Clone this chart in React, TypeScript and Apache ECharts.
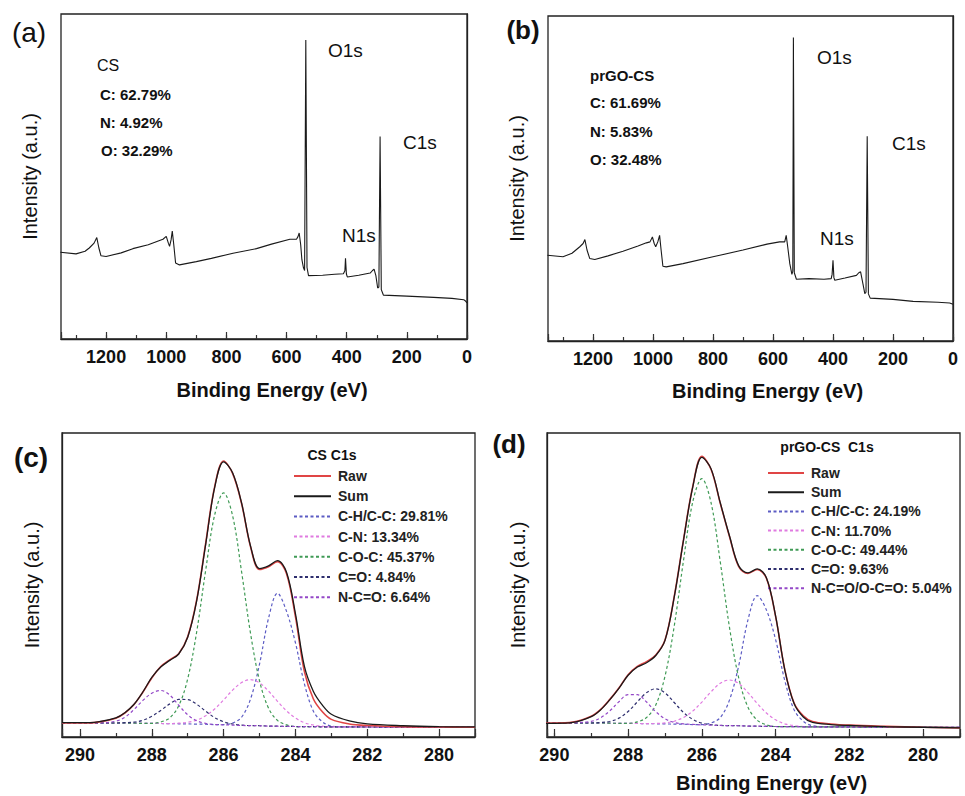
import React, { useEffect, useRef } from "react";
import * as echarts from "echarts";

const FONT = "'Liberation Sans', Arial, Helvetica, sans-serif";

// ---------- survey spectra (binding energy eV, intensity a.u.) ----------
const surveyA_x = [1352,1300,1270,1256,1240,1231,1224,1217,1200,1150,1111,1060,1020,1011,1000,993,989,984,980,975,969,956,900,850,778,700,650,589,567,562,558,553,549,544,540,536,532,527,480,440,411,406,404,401,398,360,322,315,309,303,297,293,289,285,280,278,200,111,50,11,4,0];
const surveyA_y = [26.7,26.2,27.0,28.0,29.5,31.2,28.0,25.6,25.4,26.5,27.8,29.0,30.4,30.7,31.6,29.5,28.5,30.5,33.2,29.0,23.4,22.8,23.8,24.8,26.4,27.8,29.2,30.7,30.7,31.5,32.6,29.0,24.4,22.0,21.1,92.0,22.0,19.5,19.6,19.9,20.1,21.0,24.8,20.0,19.1,19.6,20.3,21.0,21.5,19.5,15.7,16.0,62.3,15.2,14.0,13.5,13.2,12.8,12.5,12.1,11.6,11.1];

const surveyB_x = [1352,1300,1270,1244,1233,1227,1220,1211,1194,1150,1100,1050,1022,1010,1002,996,991,984,978,973,967,956,900,800,700,620,578,561,556,551,544,537,534,532,529,522,480,430,406,403,400,397,394,360,322,314,308,300,294,290,286,282,276,200,133,50,11,0];
const surveyB_y = [26.4,25.9,27.0,29.0,30.0,31.2,28.0,25.4,25.1,26.2,27.6,29.2,30.2,30.5,32.0,30.0,29.0,30.5,32.5,28.0,23.0,22.8,23.8,25.9,28.0,29.8,30.5,30.5,32.5,29.0,23.8,20.5,21.5,93.4,21.0,19.0,19.2,19.0,19.2,20.5,24.8,19.5,18.7,19.4,20.2,21.0,21.3,17.5,14.6,15.0,63.0,14.5,13.2,12.8,12.2,11.9,11.7,11.3];

// ---------- C1s high-resolution spectra ----------
const c1sX = [290.5,290,289.5,289,288.75,288.5,288.25,288,287.75,287.5,287.25,287,286.75,286.5,286.25,286,285.75,285.5,285.25,285,284.75,284.5,284.25,284,283.75,283.5,283.25,283,282.5,282,281,280,279];

// panel (c) CS C1s
const rawC = [4.6,4.6,4.9,6.2,7.9,10.6,14.7,19.4,23.2,25.4,27.4,33.0,45.1,63.7,82.3,90.8,86.7,76.8,62.6,55.1,56.0,57.7,53.8,39.6,21.5,12.5,8.3,5.8,4.3,3.8,3.4,3.3,3.2];
const sumC = [4.7,4.7,5.0,6.3,8.0,10.7,14.8,19.6,23.0,25.2,27.3,32.8,44.8,63.3,82.0,90.5,86.9,77.0,62.8,55.4,56.3,58.0,54.3,40.6,23.2,15.0,10.5,7.5,5.3,4.3,3.7,3.4,3.3];
const chC = [4.6,4.6,4.6,4.6,4.6,4.55,4.5,4.5,4.45,4.4,4.35,4.3,4.25,4.2,4.1,4.1,4.6,6.5,12.5,24.0,39.0,47.3,41.4,31.0,17.5,8.5,5.0,3.6,3.3,3.3,3.2,3.2,3.2];
const cnC = [4.6,4.6,4.6,4.6,4.6,4.55,4.5,4.5,4.45,4.4,4.55,4.84,5.55,7.0,9.2,12.2,15.4,17.9,18.85,17.8,15.1,11.75,8.6,6.25,4.7,3.94,3.55,3.3,3.3,3.3,3.2,3.2,3.2];
const cocC = [4.6,4.6,4.6,4.6,4.6,4.55,4.5,4.5,4.95,6.3,10.25,19.1,34.55,54.8,73.0,80.3,72.8,54.4,34.05,18.5,9.5,5.45,4.0,3.45,3.4,3.4,3.35,3.3,3.3,3.3,3.2,3.2,3.2];
const coC = [4.6,4.6,4.6,4.6,4.7,4.9,5.5,6.8,8.75,10.9,12.35,12.3,10.75,8.5,6.4,5.0,4.27,3.9,3.75,3.7,3.6,3.55,3.5,3.45,3.4,3.4,3.35,3.3,3.3,3.3,3.2,3.2,3.2];
const ncoC = [4.6,4.6,4.6,5.2,6.5,9.0,12.0,14.4,15.3,13.8,10.45,7.3,5.35,4.5,4.1,4.0,3.9,3.8,3.75,3.7,3.6,3.55,3.5,3.45,3.4,3.4,3.35,3.3,3.3,3.3,3.2,3.2,3.2];

// panel (d) prGO-CS C1s
const rawD = [4.6,4.6,4.9,6.8,9.0,12.3,16.1,20.5,23.2,24.8,27.0,31.9,46.2,64.8,82.3,92.3,88.0,76.8,65.9,56.0,53.8,55.1,52.2,39.6,22.1,11.2,7.0,5.1,4.3,3.9,3.5,3.2,3.0];
const sumD = [4.5,4.5,4.8,6.7,8.9,12.2,16.0,20.3,23.0,24.4,26.8,31.8,46.0,64.6,82.0,92.0,88.2,77.0,66.1,56.3,54.0,55.3,52.4,39.8,22.0,11.0,6.6,4.8,4.1,3.8,3.4,3.2,3.0];
const chD = [4.6,4.6,4.6,4.6,4.6,4.55,4.5,4.5,4.45,4.4,4.35,4.3,4.25,4.2,4.1,4.1,4.6,6.4,12.2,23.5,38.5,46.5,41.8,32.0,18.5,9.0,5.2,3.7,3.3,3.3,3.2,3.2,3.2];
const cnD = [4.6,4.6,4.6,4.6,4.6,4.55,4.5,4.5,4.45,4.4,4.45,4.65,5.19,6.4,8.5,11.5,14.9,17.7,18.75,17.6,14.6,11.05,7.9,5.65,4.34,3.75,3.45,3.3,3.3,3.3,3.2,3.2,3.2];
const cocD = [4.6,4.6,4.6,4.6,4.6,4.55,4.5,4.5,4.98,6.4,10.55,20.0,36.45,57.9,77.2,85.0,77.0,57.5,35.95,19.4,9.8,5.55,4.03,3.45,3.4,3.4,3.35,3.3,3.3,3.3,3.2,3.2,3.2];
const coD = [4.6,4.6,4.6,4.6,4.75,5.11,6.2,8.4,11.55,14.6,15.85,14.5,11.35,8.1,5.8,4.56,4.05,3.8,3.75,3.7,3.6,3.55,3.5,3.45,3.4,3.4,3.35,3.3,3.3,3.3,3.2,3.2,3.2];
const ncoD = [4.6,4.6,4.7,5.14,6.3,8.55,11.6,13.96,13.91,11.5,8.35,6.0,4.79,4.33,4.15,4.0,3.9,3.8,3.75,3.7,3.6,3.55,3.5,3.45,3.4,3.4,3.35,3.3,3.3,3.3,3.2,3.2,3.2];

// ---------- labels ----------
const legendC = ["Raw", "Sum", "C-H/C-C: 29.81%", "C-N: 13.34%", "C-O-C: 45.37%", "C=O: 4.84%", "N-C=O: 6.64%"];
const legendD = ["Raw", "Sum", "C-H/C-C: 24.19%", "C-N: 11.70%", "C-O-C: 49.44%", "C=O: 9.63%", "N-C=O/O-C=O: 5.04%"];
const compA = ["CS", "C: 62.79%", "N: 4.92%", "O: 32.29%"];
const compB = ["prGO-CS", "C: 61.69%", "N: 5.83%", "O: 32.48%"];
const peakNames = ["O1s", "C1s", "N1s"];

const COLORS = ["#e04545", "#1a1a1a", "#5c5cc4", "#e07ae0", "#3f9a55", "#2e2e6e", "#9448c8"];

const zip = (xs: number[], ys: number[]) => xs.map((x, i) => [x, ys[i]]);

function buildOption() {
  const grids = [
    { left: 61, top: 14, width: 406, height: 325 },
    { left: 548, top: 16, width: 405, height: 325 },
    { left: 62, top: 433, width: 413, height: 304 },
    { left: 547, top: 433, width: 413, height: 304 },
  ].map((g) => ({ ...g, show: true, borderColor: "#222", borderWidth: 1.3, backgroundColor: "transparent", containLabel: false, outerBoundsMode: "none" }));

  const labelStyle = { fontSize: 18, fontWeight: "bold", color: "#111", fontFamily: FONT };
  const lineBlack = { show: true, lineStyle: { color: "#222", width: 1.3 } };

  const surveyMajor = (gridIndex: number, name: string, gap: number, pad: number) => ({
    type: "value", gridIndex, position: "bottom", inverse: true, min: 0, max: 1350, interval: 200,
    axisLine: lineBlack, splitLine: { show: false },
    axisTick: { show: true, inside: true, length: 7, lineStyle: { color: "#333", width: 1.2 } },
    axisLabel: { ...labelStyle, margin: 9, formatter: (v: number) => (v % 200 === 0 ? String(v) : "") },
    name, nameLocation: "middle", nameGap: gap,
    nameTextStyle: { fontSize: 20, fontWeight: "bold", color: "#111", fontFamily: FONT, padding: [0, 0, 0, pad] },
  });
  const surveyMinor = (gridIndex: number) => ({
    type: "value", gridIndex, position: "bottom", inverse: true, min: 0, max: 1350, interval: 100,
    axisLine: { show: false }, splitLine: { show: false }, axisLabel: { show: false },
    axisTick: { show: true, inside: true, length: 4, lineStyle: { color: "#333", width: 1.2 } },
  });
  const c1sMinor = (gridIndex: number, max: number) => ({
    type: "value", gridIndex, position: "bottom", inverse: true, min: 279, max, interval: 1,
    axisLine: lineBlack, splitLine: { show: false }, axisLabel: { show: false },
    axisTick: { show: true, inside: true, length: 4, lineStyle: { color: "#333", width: 1.2 } },
  });
  const c1sMajor = (gridIndex: number, max: number, name: string, gap: number, pad: number) => ({
    type: "value", gridIndex, position: "bottom", inverse: true, min: 279, max, splitNumber: 5,
    axisLine: { show: false }, splitLine: { show: false },
    axisTick: { show: true, inside: true, length: 8, lineStyle: { color: "#333", width: 1.2 } },
    axisLabel: { ...labelStyle, margin: 9, formatter: (v: number) => (Math.abs(v % 2) < 1e-9 ? String(v) : "") },
    name, nameLocation: "middle", nameGap: gap,
    nameTextStyle: { fontSize: 20, fontWeight: "bold", color: "#111", fontFamily: FONT, padding: [0, 0, 0, pad] },
  });

  const xAxis = [
    surveyMajor(0, "Binding Energy (eV)", 41, 16),
    surveyMinor(0),
    surveyMajor(1, "Binding Energy (eV)", 40, 34),
    surveyMinor(1),
    c1sMinor(2, 290.5),
    c1sMajor(2, 290.5, "", 36, 0),
    c1sMinor(3, 290.2),
    c1sMajor(3, 290.2, "Binding Energy (eV)", 36, 36),
  ];

  const yAx = (gridIndex: number, gap: number) => ({
    type: "value", gridIndex, min: 0, max: 100,
    axisLine: lineBlack, axisTick: { show: false }, axisLabel: { show: false }, splitLine: { show: false },
    name: "Intensity (a.u.)", nameLocation: "middle", nameGap: gap,
    nameTextStyle: { fontSize: 20, color: "#111", fontFamily: FONT },
  });
  const yAxis = [yAx(0, 21), yAx(1, 21), yAx(2, 20), yAx(3, 19)];

  const surveySeries = (xi: number, yi: number, xs: number[], ys: number[]) => ({
    type: "line", xAxisIndex: xi, yAxisIndex: yi, data: zip(xs, ys), symbol: "none", silent: true,
    lineStyle: { color: "#1a1a1a", width: 1.1 }, z: 3,
  });

  const fitSeries = (xi: number, yi: number, names: string[], arrays: number[][]) => {
    const out: any[] = [];
    for (let k = 2; k < 7; k++) {
      out.push({
        type: "line", name: names[k], xAxisIndex: xi, yAxisIndex: yi, data: zip(c1sX, arrays[k]),
        symbol: "none", smooth: 0.35, silent: true, color: COLORS[k],
        lineStyle: { color: COLORS[k], width: 1.2, type: [3, 2.5] }, z: 2,
      });
    }
    out.push({
      type: "line", name: names[0], xAxisIndex: xi, yAxisIndex: yi, data: zip(c1sX, arrays[0]),
      symbol: "none", smooth: 0.35, silent: true, color: COLORS[0],
      lineStyle: { color: COLORS[0], width: 1.6 }, z: 3,
    });
    out.push({
      type: "line", name: names[1], xAxisIndex: xi, yAxisIndex: yi, data: zip(c1sX, arrays[1]),
      symbol: "none", smooth: 0.35, silent: true, color: COLORS[1],
      lineStyle: { color: COLORS[1], width: 1.3 }, z: 4,
    });
    return out;
  };

  const series = [
    surveySeries(0, 0, surveyA_x, surveyA_y),
    surveySeries(2, 1, surveyB_x, surveyB_y),
    ...fitSeries(4, 2, legendC, [rawC, sumC, chC, cnC, cocC, coC, ncoC]),
    ...fitSeries(6, 3, legendD, [rawD, sumD, chD, cnD, cocD, coD, ncoD]),
  ];

  const legendBase = {
    orient: "vertical", selectedMode: false, padding: 0,
    itemStyle: { opacity: 0, borderWidth: 0 },
    textStyle: { fontSize: 14, fontWeight: "bold", color: "#222", fontFamily: FONT, padding: [0, 0, 0, 2] },
  };
  const legend = [
    { ...legendBase, data: legendC, left: 293, top: 469, itemWidth: 37, itemHeight: 14, itemGap: 6.2 },
    { ...legendBase, data: legendD, left: 767, top: 466, itemWidth: 36, itemHeight: 14, itemGap: 5.2 },
  ];

  const txt = (text: string, x: number, y: number, size: number, weight = "normal", align = "left") => ({
    type: "text", x, y, silent: true, z: 10,
    style: {
      text, fontSize: size, fontWeight: weight, fontFamily: FONT, fill: "#111",
      textAlign: align, align, textVerticalAlign: "middle", verticalAlign: "middle",
    },
  });

  const graphic = [
    txt("(a)", 29, 32, 28, "normal", "center"),
    txt("(b)", 523, 30, 26, "bold", "center"),
    txt("(c)", 31, 457, 28, "bold", "center"),
    txt("(d)", 509, 444, 26, "bold", "center"),
    txt(compA[0], 97, 65, 16, "normal"),
    txt(compA[1], 100, 94, 15, "bold"),
    txt(compA[2], 100, 122, 15, "bold"),
    txt(compA[3], 101, 150, 15, "bold"),
    txt(peakNames[0], 328, 50, 19),
    txt(peakNames[1], 403, 142, 19),
    txt(peakNames[2], 342, 235, 19),
    txt(compB[0], 590, 75, 15, "bold"),
    txt(compB[1], 590, 102, 15, "bold"),
    txt(compB[2], 590, 131, 15, "bold"),
    txt(compB[3], 590, 159, 15, "bold"),
    txt(peakNames[0], 817, 57, 19),
    txt(peakNames[1], 892, 143, 19),
    txt(peakNames[2], 820, 238, 19),
    txt("CS C1s", 332, 455, 14, "bold", "center"),
    txt("prGO-CS  C1s", 827, 447, 14, "bold", "center"),
  ];

  return {
    animation: false,
    backgroundColor: "#ffffff",
    textStyle: { fontFamily: FONT },
    grid: grids,
    xAxis,
    yAxis,
    series,
    legend,
    graphic,
  };
}

export default function App() {
  const ref = useRef<HTMLDivElement>(null);
  useEffect(() => {
    if (!ref.current) return;
    const chart = echarts.init(ref.current, null, { renderer: "svg" });
    chart.setOption(buildOption() as any);
    return () => chart.dispose();
  }, []);
  return (
    <div
      ref={ref}
      style={{ position: "absolute", left: 0, top: 0, width: 965, height: 796, background: "#fff" }}
    />
  );
}
